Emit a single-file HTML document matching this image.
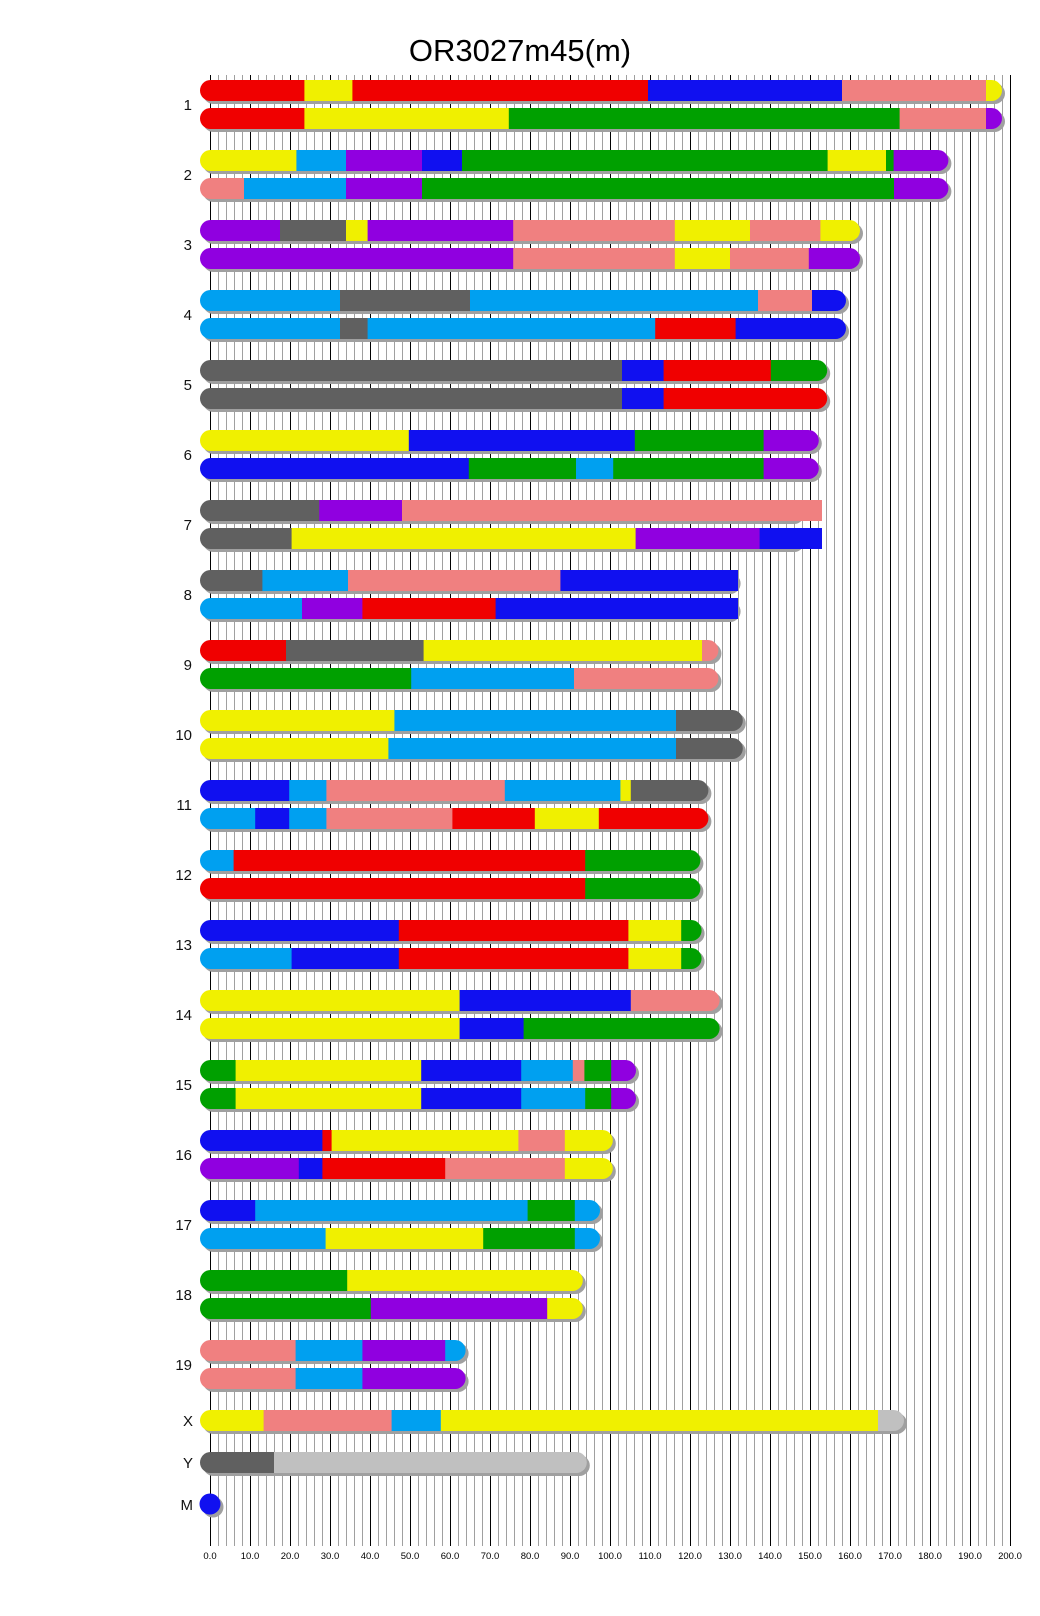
<!DOCTYPE html>
<html><head><meta charset="utf-8"><style>
body{margin:0;background:#fff;}
svg{display:block;font-family:"Liberation Sans",sans-serif;}
</style></head><body>
<svg id="s" width="1040" height="1616" xmlns="http://www.w3.org/2000/svg">
<g id="grid"></g>
<g id="bars"></g>
<text x="520" y="61" font-size="31" text-anchor="middle" fill="#000">OR3027m45(m)</text>
<g font-size="15" text-anchor="end" fill="#111">
<text x="192" y="110">1</text><text x="192" y="180">2</text><text x="192" y="250">3</text><text x="192" y="320">4</text>
<text x="192" y="390">5</text><text x="192" y="460">6</text><text x="192" y="530">7</text><text x="192" y="600">8</text>
<text x="192" y="670">9</text><text x="192" y="740">10</text><text x="192" y="810">11</text><text x="192" y="880">12</text>
<text x="192" y="950">13</text><text x="192" y="1020">14</text><text x="192" y="1090">15</text><text x="192" y="1160">16</text>
<text x="192" y="1230">17</text><text x="192" y="1300">18</text><text x="192" y="1370">19</text>
<text x="193" y="1426">X</text><text x="193" y="1468">Y</text><text x="193" y="1510">M</text>
</g>
<g font-size="9.5" text-anchor="middle" fill="#000">
<text x="210" y="1559">0.0</text><text x="250" y="1559">10.0</text><text x="290" y="1559">20.0</text><text x="330" y="1559">30.0</text>
<text x="370" y="1559">40.0</text><text x="410" y="1559">50.0</text><text x="450" y="1559">60.0</text><text x="490" y="1559">70.0</text>
<text x="530" y="1559">80.0</text><text x="570" y="1559">90.0</text><text x="610" y="1559">100.0</text><text x="650" y="1559">110.0</text>
<text x="690" y="1559">120.0</text><text x="730" y="1559">130.0</text><text x="770" y="1559">140.0</text><text x="810" y="1559">150.0</text>
<text x="850" y="1559">160.0</text><text x="890" y="1559">170.0</text><text x="930" y="1559">180.0</text><text x="970" y="1559">190.0</text>
<text x="1010" y="1559">200.0</text>
</g>
</svg>
<script>
var NS="http://www.w3.org/2000/svg";
function el(t,a,p){var e=document.createElementNS(NS,t);for(var k in a)e.setAttribute(k,a[k]);p.appendChild(e);return e;}
var g=document.getElementById('grid');
for(var u=0;u<=200;u+=2){var x=210+4*u+0.5;el('line',{x1:x,x2:x,y1:75,y2:1546,stroke:u%10==0?'#000':'#a0a0a0','stroke-width':1},g);}
var C={r:'#f00000',y:'#f0f000',b:'#1010f0',p:'#f08080',g:'#00a000',c:'#00a0f0',v:'#9000e0',d:'#606060',l:'#c0c0c0'};
var D=[
[195.5,0,'r23.6 y35.6 r109.5 b158 p194 y999','r23.6 y74.7 g172.4 p194 v999'],
[182.1,0,'y21.6 c34 v53 b63 g154.4 y169 g170.9 v999','p8.5 c34 v53 g171 v999'],
[160,0,'v17.5 d34 y39.4 v75.8 p116.2 y135 p152.6 y999','v75.8 p116.2 y130 p149.7 v999'],
[156.5,0,'c32.5 d65 c137 p150.5 b999','c32.5 d39.4 c111.3 r131.4 b999'],
[151.8,0,'d103 b113.4 r140.2 g999','d103 b113.4 r999'],
[149.7,0,'y49.7 b106.2 g138.4 v999','b64.7 g91.5 c100.8 g138.4 v999'],
[145.4,153,'d27.3 v48 p999','d20.4 y106.4 v137.4 b999'],
[129.4,132,'d13.1 c34.5 p87.6 b999','c23 v38.1 r71.4 b999'],
[124.6,0,'r19 d53.4 y123 p999','g50.3 c91 p999'],
[130.7,0,'y46.1 c116.5 d999','y44.6 c116.5 d999'],
[122.1,0,'b19.8 c29.1 p73.7 c102.6 y105.2 d999','c11.3 b19.8 c29.1 p60.6 r81.2 y97.2 r999'],
[120.1,0,'c5.9 r93.8 g999','r93.8 g999'],
[120.4,0,'b47.2 r104.6 y117.8 g999','c20.4 b47.2 r104.6 y117.8 g999'],
[124.9,0,'y62.4 b105.2 p999','y62.4 b78.4 g999'],
[104,0,'g6.4 y52.8 b77.8 c90.7 p93.6 g100.3 v999','g6.4 y52.8 b77.8 c93.8 g100.3 v999'],
[98.2,0,'b28.1 r30.4 y77.1 p88.7 y999','v22.2 b28.1 r58.8 p88.7 y999'],
[95,0,'b11.3 c79.4 g91.2 c999','c28.9 y68.3 g91.2 c999'],
[90.7,0,'g34.3 y999','g40.2 v84.3 y999'],
[61.4,0,'p21.4 c38.1 v58.8 c999','p21.4 c38.1 v999']
];
var B=document.getElementById('bars'),cid=0;
function bar(y,len,sq,segs){
 var xr=210+4*len+10;
 el('rect',{x:203,y:y+3,width:xr-200,height:21,rx:10.5,fill:'#a0a0a0'},B);
 var cp=el('clipPath',{id:'c'+cid},B);
 el('rect',{x:200,y:y,width:xr-200,height:21,rx:10.5},cp);
 var xe=xr;
 if(sq){xe=210+4*sq;el('rect',{x:220,y:y,width:xe-220,height:21},cp);}
 var gg=el('g',{'clip-path':'url(#c'+cid+')'},B);cid++;
 var st=195;
 segs.split(' ').forEach(function(s){var c=C[s[0]],e=parseFloat(s.slice(1));var x2=Math.min(210+4*e,xe+5);
  el('rect',{x:st,y:y,width:x2-st+0.6,height:21,fill:c},gg);st=x2;});
}
D.forEach(function(d,i){var y=80+i*70;bar(y,d[0],d[1],d[2]);bar(y+28,d[0],d[1],d[3]);});
bar(1410,171,0,'y13.4 p45.4 c57.7 y167 l999');
bar(1452,91.7,0,'d16 l999');
el('circle',{cx:213,cy:1507,r:10.5,fill:'#a0a0a0'},B);
el('circle',{cx:210,cy:1504,r:10.5,fill:'#1010f0'},B);
</script>
</body></html>
